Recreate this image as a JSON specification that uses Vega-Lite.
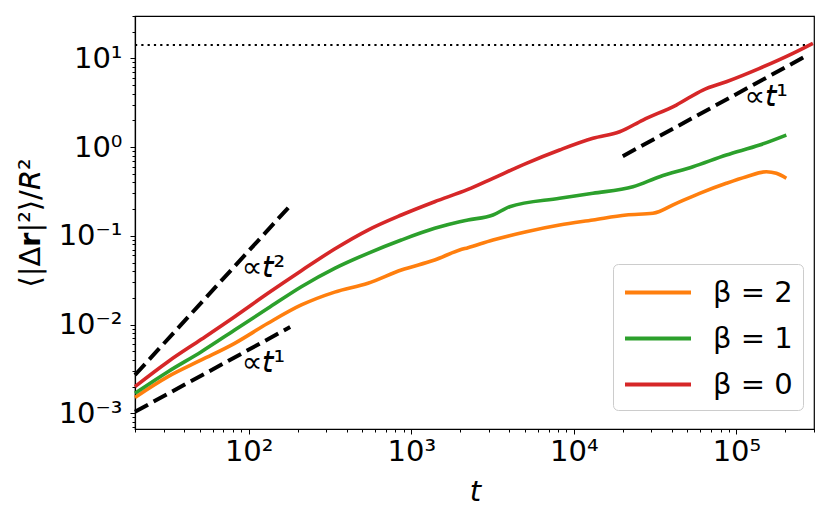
{
  "$schema": "https://vega.github.io/schema/vega-lite/v6.json",
  "width": 679,
  "height": 413,
  "autosize": {"type": "none"},
  "padding": {"left": 135, "top": 16, "right": 17, "bottom": 88},
  "background": "white",
  "config": {
    "view": {"stroke": "black", "strokeWidth": 1.2},
    "font": "DejaVu Sans",
    "axis": {
      "grid": false,
      "domainColor": "black",
      "domainWidth": 1.2,
      "tickColor": "black",
      "tickWidth": 1,
      "labelColor": "black",
      "titleColor": "black",
      "labelFont": "DejaVu Sans",
      "titleFont": "DejaVu Sans",
      "labelFontSize": 29,
      "titleFontSize": 29,
      "titleFontWeight": "normal"
    },
    "legend": {
      "orient": "none",
      "legendX": 478,
      "legendY": 248,
      "symbolType": "M-1,0L3,0",
      "symbolStrokeWidth": 4,
      "symbolSize": 1089,
      "labelFont": "DejaVu Sans",
      "labelFontSize": 29,
      "labelColor": "black",
      "labelOffset": 53,
      "labelLimit": 0,
      "padding": 10,
      "rowPadding": 12,
      "strokeColor": "#cccccc",
      "fillColor": "rgba(255,255,255,0.8)",
      "cornerRadius": 5
    }
  },
  "datasets": {
    "ref": [
      {"t": 20, "v": 14.1},
      {"t": 300000, "v": 14.1}
    ],
    "curves": [
      {"beta": "β = 2", "t": 20, "v": 0.00151},
      {"beta": "β = 2", "t": 31.9, "v": 0.002585},
      {"beta": "β = 2", "t": 51.2, "v": 0.003987},
      {"beta": "β = 2", "t": 82, "v": 0.006146},
      {"beta": "β = 2", "t": 131.4, "v": 0.01033},
      {"beta": "β = 2", "t": 210.9, "v": 0.01661},
      {"beta": "β = 2", "t": 338, "v": 0.0232},
      {"beta": "β = 2", "t": 541.7, "v": 0.0292},
      {"beta": "β = 2", "t": 869, "v": 0.0412},
      {"beta": "β = 2", "t": 1393, "v": 0.05336},
      {"beta": "β = 2", "t": 1985, "v": 0.06918},
      {"beta": "β = 2", "t": 2232, "v": 0.0735},
      {"beta": "β = 2", "t": 3181, "v": 0.08968},
      {"beta": "β = 2", "t": 5105, "v": 0.1112},
      {"beta": "β = 2", "t": 8177, "v": 0.1323},
      {"beta": "β = 2", "t": 13108, "v": 0.1507},
      {"beta": "β = 2", "t": 21030, "v": 0.1715},
      {"beta": "β = 2", "t": 30660, "v": 0.1792},
      {"beta": "β = 2", "t": 42700, "v": 0.2324},
      {"beta": "β = 2", "t": 59380, "v": 0.3012},
      {"beta": "β = 2", "t": 86690, "v": 0.3905},
      {"beta": "β = 2", "t": 115100, "v": 0.4633},
      {"beta": "β = 2", "t": 152800, "v": 0.5276},
      {"beta": "β = 2", "t": 176000, "v": 0.506},
      {"beta": "β = 2", "t": 202700, "v": 0.4444},
      {"beta": "β = 1", "t": 20, "v": 0.00168},
      {"beta": "β = 1", "t": 31.9, "v": 0.002941},
      {"beta": "β = 1", "t": 51.2, "v": 0.004943},
      {"beta": "β = 1", "t": 82, "v": 0.008684},
      {"beta": "β = 1", "t": 131.4, "v": 0.01524},
      {"beta": "β = 1", "t": 210.9, "v": 0.0267},
      {"beta": "β = 1", "t": 338, "v": 0.043},
      {"beta": "β = 1", "t": 541.7, "v": 0.06352},
      {"beta": "β = 1", "t": 869, "v": 0.08968},
      {"beta": "β = 1", "t": 1393, "v": 0.1215},
      {"beta": "β = 1", "t": 1985, "v": 0.1442},
      {"beta": "β = 1", "t": 2232, "v": 0.1507},
      {"beta": "β = 1", "t": 3181, "v": 0.1715},
      {"beta": "β = 1", "t": 4029, "v": 0.2128},
      {"beta": "β = 1", "t": 8177, "v": 0.2646},
      {"beta": "β = 1", "t": 13108, "v": 0.3012},
      {"beta": "β = 1", "t": 23090, "v": 0.3575},
      {"beta": "β = 1", "t": 33710, "v": 0.4633},
      {"beta": "β = 1", "t": 54030, "v": 0.6006},
      {"beta": "β = 1", "t": 86690, "v": 0.8137},
      {"beta": "β = 1", "t": 138900, "v": 1.0546},
      {"beta": "β = 1", "t": 202700, "v": 1.367},
      {"beta": "β = 0", "t": 20, "v": 0.002},
      {"beta": "β = 0", "t": 31.9, "v": 0.003814},
      {"beta": "β = 0", "t": 51.2, "v": 0.006821},
      {"beta": "β = 0", "t": 82, "v": 0.01226},
      {"beta": "β = 0", "t": 131.4, "v": 0.0225},
      {"beta": "β = 0", "t": 210.9, "v": 0.04044},
      {"beta": "β = 0", "t": 338, "v": 0.071},
      {"beta": "β = 0", "t": 541.7, "v": 0.1162},
      {"beta": "β = 0", "t": 869, "v": 0.1715},
      {"beta": "β = 0", "t": 1393, "v": 0.2422},
      {"beta": "β = 0", "t": 2232, "v": 0.3329},
      {"beta": "β = 0", "t": 3181, "v": 0.4444},
      {"beta": "β = 0", "t": 5105, "v": 0.6559},
      {"beta": "β = 0", "t": 8177, "v": 0.9265},
      {"beta": "β = 0", "t": 13108, "v": 1.255},
      {"beta": "β = 0", "t": 19130, "v": 1.489},
      {"beta": "β = 0", "t": 26610, "v": 2.018},
      {"beta": "β = 0", "t": 42700, "v": 2.977},
      {"beta": "β = 0", "t": 62230, "v": 4.393},
      {"beta": "β = 0", "t": 86690, "v": 5.449},
      {"beta": "β = 0", "t": 138900, "v": 7.715},
      {"beta": "β = 0", "t": 222600, "v": 11.38},
      {"beta": "β = 0", "t": 295400, "v": 14.76}
    ],
    "guides": [
      {"guide": "t2", "t": 20, "v": 0.0027},
      {"guide": "t2", "t": 181, "v": 0.221},
      {"guide": "t1low", "t": 20, "v": 0.00104},
      {"guide": "t1low", "t": 180, "v": 0.00936},
      {"guide": "t1high", "t": 20000, "v": 0.79},
      {"guide": "t1high", "t": 275000, "v": 10.9}
    ],
    "notes": [
      {"label": "∝𝘵²", "t": 90.6, "v": 0.0344},
      {"label": "∝𝘵¹", "t": 90.6, "v": 0.00292},
      {"label": "∝𝘵¹", "t": 112000, "v": 2.9}
    ]
  },
  "layer": [
    {
      "data": {"name": "ref"},
      "mark": {"type": "line", "color": "black", "strokeWidth": 2, "strokeDash": [2.2, 4.1]},
      "encoding": {
        "x": {
          "field": "t",
          "type": "quantitative",
          "title": "t",
          "scale": {"type": "log", "domain": [20, 300000], "nice": false},
          "axis": {
            "values": [20, 30, 40, 50, 60, 70, 80, 90, 100, 200, 300, 400, 500, 600, 700, 800, 900, 1000, 2000, 3000, 4000, 5000, 6000, 7000, 8000, 9000, 10000, 20000, 30000, 40000, 50000, 60000, 70000, 80000, 90000, 100000, 200000, 300000],
            "labelExpr": "datum.value == 100 ? '10²' : datum.value == 1000 ? '10³' : datum.value == 10000 ? '10⁴' : datum.value == 100000 ? '10⁵' : ''",
            "tickSize": {"condition": {"test": "indexof([100,1000,10000,100000], datum.value) >= 0", "value": 5}, "value": 3},
            "labelBaseline": "alphabetic",
            "labelPadding": 26,
            "labelFlush": false,
            "labelOverlap": false,
            "title": "t",
            "titleFontStyle": "italic",
            "titleX": 340,
            "titleY": 71,
            "titleBaseline": "alphabetic"
          }
        },
        "y": {
          "field": "v",
          "type": "quantitative",
          "title": "⟨|Δ𝗿|²⟩/𝘙²",
          "scale": {"type": "log", "domain": [0.000665, 30], "nice": false},
          "axis": {
            "values": [0.0007, 0.0008, 0.0009, 0.001, 0.002, 0.003, 0.004, 0.005, 0.006, 0.007, 0.008, 0.009, 0.01, 0.02, 0.03, 0.04, 0.05, 0.06, 0.07, 0.08, 0.09, 0.1, 0.2, 0.3, 0.4, 0.5, 0.6, 0.7, 0.8, 0.9, 1, 2, 3, 4, 5, 6, 7, 8, 9, 10, 20, 30],
            "labelExpr": "datum.value == 0.001 ? '10⁻³' : datum.value == 0.01 ? '10⁻²' : datum.value == 0.1 ? '10⁻¹' : datum.value == 1 ? '10⁰' : datum.value == 10 ? '10¹' : ''",
            "tickSize": {"condition": {"test": "indexof([0.001,0.01,0.1,1,10], datum.value) >= 0", "value": 5}, "value": 3},
            "labelPadding": 8,
            "labelFlush": false,
            "labelOverlap": false,
            "title": "⟨|Δ𝗿|²⟩/𝘙²",
            "titleX": -105,
            "titleY": 206.5,
            "titleBaseline": "middle",
            "titleAlign": "center"
          }
        }
      }
    },
    {
      "data": {"name": "curves"},
      "mark": {"type": "line", "strokeWidth": 3.6, "interpolate": "monotone"},
      "encoding": {
        "x": {"field": "t", "type": "quantitative", "title": "t"},
        "y": {"field": "v", "type": "quantitative", "title": "⟨|Δ𝗿|²⟩/𝘙²"},
        "color": {
          "field": "beta",
          "type": "nominal",
          "scale": {"domain": ["β = 2", "β = 1", "β = 0"], "range": ["#ff7f0e", "#2ca02c", "#d62728"]},
          "legend": {"title": null}
        }
      }
    },
    {
      "data": {"name": "guides"},
      "mark": {"type": "line", "color": "black", "strokeWidth": 4, "strokeDash": [14.8, 6.4]},
      "encoding": {
        "x": {"field": "t", "type": "quantitative", "title": "t"},
        "y": {"field": "v", "type": "quantitative", "title": "⟨|Δ𝗿|²⟩/𝘙²"},
        "detail": {"field": "guide", "type": "nominal"}
      }
    },
    {
      "data": {"name": "notes"},
      "mark": {"type": "text", "align": "left", "baseline": "alphabetic", "fontSize": 29, "font": "DejaVu Sans", "color": "black"},
      "encoding": {
        "x": {"field": "t", "type": "quantitative", "title": "t"},
        "y": {"field": "v", "type": "quantitative", "title": "⟨|Δ𝗿|²⟩/𝘙²"},
        "text": {"field": "label"}
      }
    }
  ]
}
